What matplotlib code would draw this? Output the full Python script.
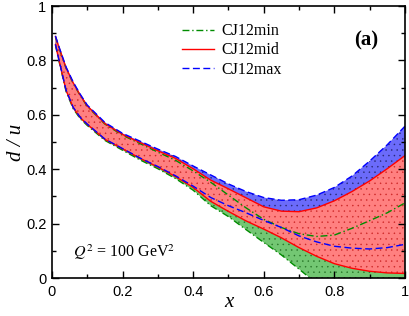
import numpy as np
import matplotlib.pyplot as plt
from matplotlib.ticker import MultipleLocator

plt.rcParams['hatch.linewidth'] = 0.3

# x grid and band edges
x = [0.01, 0.02, 0.04, 0.06, 0.08, 0.10, 0.15, 0.20, 0.25, 0.30, 0.35, 0.40,
     0.45, 0.50, 0.55, 0.60, 0.65, 0.70, 0.75, 0.80, 0.85, 0.90, 0.95, 1.00]

mid_hi = [0.888, 0.848, 0.773, 0.718, 0.673, 0.633, 0.568, 0.528, 0.498, 0.468, 0.440, 0.402,
          0.360, 0.328, 0.295, 0.262, 0.246, 0.244, 0.258, 0.284, 0.318, 0.357, 0.402, 0.450]
mid_lo = [0.858, 0.800, 0.690, 0.627, 0.590, 0.565, 0.510, 0.475, 0.440, 0.408, 0.373, 0.333,
          0.282, 0.245, 0.210, 0.180, 0.148, 0.112, 0.080, 0.053, 0.036, 0.025, 0.019, 0.017]

min_hi = [0.886, 0.846, 0.771, 0.716, 0.671, 0.631, 0.566, 0.525, 0.494, 0.463, 0.433, 0.394,
          0.352, 0.305, 0.258, 0.216, 0.186, 0.163, 0.153, 0.158, 0.183, 0.211, 0.240, 0.276]
min_lo = [0.856, 0.797, 0.686, 0.623, 0.586, 0.561, 0.506, 0.470, 0.434, 0.402, 0.366, 0.323,
          0.266, 0.226, 0.178, 0.131, 0.085, 0.033, -0.02, -0.07, -0.12, -0.17, -0.22, -0.27]

max_hi = [0.890, 0.850, 0.776, 0.721, 0.676, 0.636, 0.572, 0.532, 0.503, 0.474, 0.447, 0.412,
          0.379, 0.346, 0.318, 0.296, 0.286, 0.288, 0.305, 0.333, 0.375, 0.430, 0.490, 0.558]
max_lo = [0.859, 0.801, 0.691, 0.628, 0.591, 0.566, 0.511, 0.476, 0.441, 0.410, 0.376, 0.338,
          0.296, 0.266, 0.240, 0.212, 0.186, 0.155, 0.133, 0.117, 0.110, 0.107, 0.112, 0.124]

fig = plt.figure(figsize=(4.09, 3.16), dpi=100)
ax = fig.add_axes([0.127, 0.12, 0.863, 0.861])

# bands: green, blue, then red on top
ax.fill_between(x, min_lo, min_hi, facecolor=(0.45, 0.78, 0.45), edgecolor=(0.15, 0.45, 0.15),
                hatch='...', linewidth=0)
ax.fill_between(x, max_lo, max_hi, facecolor=(0.42, 0.42, 0.98), edgecolor=(0.15, 0.15, 0.45),
                hatch='...', linewidth=0)
ax.fill_between(x, mid_lo, mid_hi, facecolor=(1.0, 0.5, 0.5), edgecolor=(0.8, 0.15, 0.15),
                hatch='...', linewidth=0)

green = (0.0, 0.55, 0.0)
ax.plot(x, min_hi, color=green, lw=1.0, ls=(0, (5, 2, 1, 2)), label='CJ12min')
ax.plot(x, min_lo, color=green, lw=1.0, ls=(0, (5, 2, 1, 2)))
ax.plot(x, mid_hi, color='red', lw=1.0, label='CJ12mid')
ax.plot(x, mid_lo, color='red', lw=1.0)
ax.plot(x, max_hi, color='blue', lw=1.0, ls=(0, (5, 2.5)), label='CJ12max')
ax.plot(x, max_lo, color='blue', lw=1.0, ls=(0, (5, 2.5)))

ax.set_xlim(0, 1)
ax.set_ylim(0, 1)
ax.xaxis.set_major_locator(MultipleLocator(0.2))
ax.xaxis.set_minor_locator(MultipleLocator(0.1))
ax.yaxis.set_major_locator(MultipleLocator(0.2))
ax.yaxis.set_minor_locator(MultipleLocator(0.1))
ax.tick_params(which='both', direction='in', top=True, right=True, width=1.0)
ax.tick_params(which='major', length=5, labelsize=10.5)
ax.tick_params(axis='x', which='major', pad=5)
ax.tick_params(axis='y', which='major', pad=4)
ax.tick_params(which='minor', length=3)
for s in ax.spines.values():
    s.set_linewidth(1.2)

fmt = lambda v, p: '0' if abs(v) < 1e-9 else ('1' if abs(v - 1) < 1e-9 else '%.1f' % v)
ax.xaxis.set_major_formatter(plt.FuncFormatter(fmt))
ax.yaxis.set_major_formatter(plt.FuncFormatter(fmt))
for lab in ax.get_xticklabels() + ax.get_yticklabels():
    lab.set_family('Liberation Sans')

ax.set_xlabel('x', family='Liberation Serif', style='italic', fontsize=15, labelpad=-4)
ax.set_ylabel('d / u', family='Liberation Serif', style='italic', fontsize=15, labelpad=0)

leg = ax.legend(loc='upper left', bbox_to_anchor=(0.35, 0.96), frameon=False,
                borderaxespad=0, prop={'family': 'Liberation Serif', 'size': 11.5},
                handlelength=2.0, handletextpad=0.5, labelspacing=0.2)

ax.text(0.924, 0.875, '(a)', transform=ax.transAxes, ha='right', va='center',
        family='Liberation Serif', weight='bold', fontsize=15)
ax.text(0.06, 0.096, r'$Q^2$ = 100 GeV$^2$', transform=ax.transAxes, ha='left', va='center',
        family='Liberation Serif', fontsize=11.5, math_fontfamily='stix')

fig.savefig('out.png', dpi=100)
